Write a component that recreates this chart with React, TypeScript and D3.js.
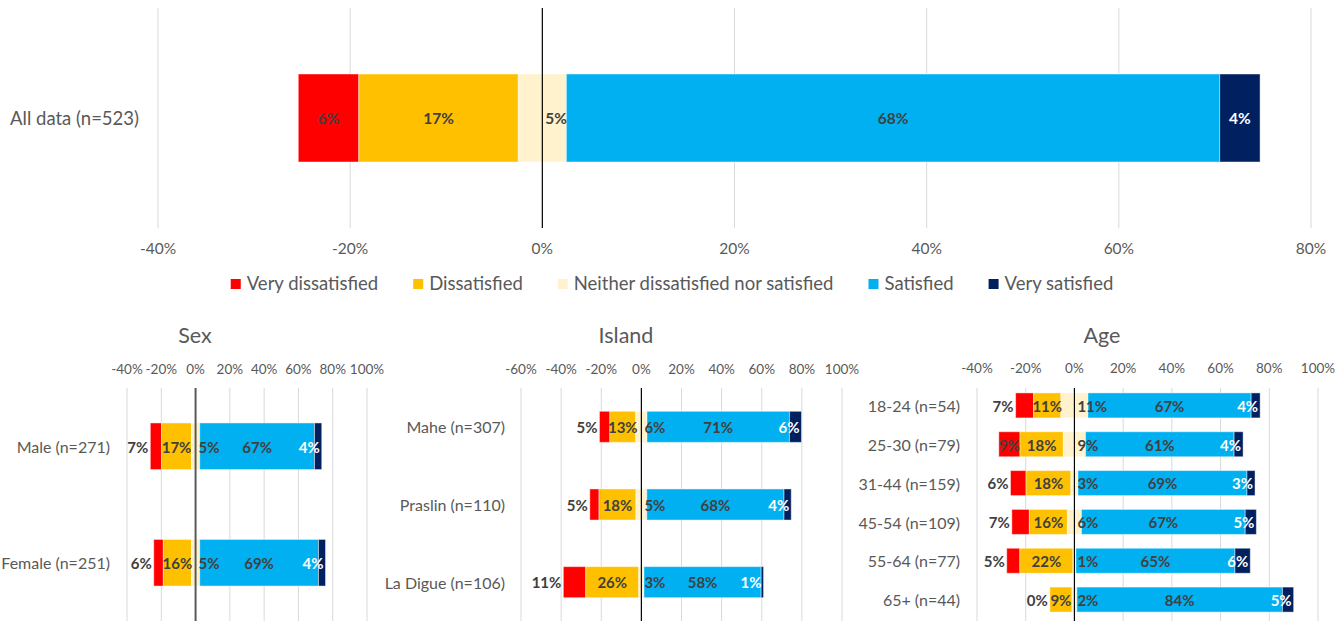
import React, { useEffect, useRef } from "react";
import * as d3 from "d3";

const seriesNames = [
  "Very dissatisfied",
  "Dissatisfied",
  "Neither dissatisfied nor satisfied",
  "Satisfied",
  "Very satisfied",
];
const seriesColors = ["#FF0000", "#FFC000", "#FFF2CC", "#00B0F0", "#002060"];

// values per category: [very dissatisfied, dissatisfied, neither, satisfied, very satisfied]
const allCategories = ["All data (n=523)"];
const allValues = [[6.3, 16.6, 5.0, 68.0, 4.2]];
const allTicks = [-40, -20, 0, 20, 40, 60, 80];

const sexCategories = ["Male (n=271)", "Female (n=251)"];
const sexValues = [
  [6.6, 17.4, 4.8, 67.0, 4.2],
  [5.6, 16.4, 4.8, 69.3, 4.1],
];
const sexTicks = [-40, -20, 0, 20, 40, 60, 80, 100];

const islandCategories = ["Mahe (n=307)", "Praslin (n=110)", "La Digue (n=106)"];
const islandValues = [
  [5.2, 12.9, 5.6, 71.0, 6.0],
  [4.6, 18.4, 5.4, 68.4, 3.6],
  [11.2, 26.4, 2.6, 58.4, 1.2],
];
const islandTicks = [-60, -40, -20, 0, 20, 40, 60, 80, 100];

const ageCategories = [
  "18-24 (n=54)",
  "25-30 (n=79)",
  "31-44 (n=159)",
  "45-54 (n=109)",
  "55-64 (n=77)",
  "65+ (n=44)",
];
const ageValues = [
  [7.4, 11.2, 11.1, 67.0, 3.7],
  [8.7, 17.8, 9.1, 61.0, 3.7],
  [6.4, 18.4, 2.9, 69.4, 3.3],
  [7.2, 15.6, 5.8, 67.2, 4.6],
  [5.4, 21.8, 1.2, 65.3, 6.3],
  [0, 9.1, 2.0, 84.4, 4.6],
];
const ageTicks = [-40, -20, 0, 20, 40, 60, 80, 100];

const FONT = "Lato, 'Open Sans', sans-serif";
const TEXT = "#595959";
const LABEL = "#404040";

type PanelOpts = {
  categories: string[];
  values: number[][];
  ticks: number[];
  range: [number, number];
  yRange: [number, number];
  lineRange: [number, number];
  padding: number;
  catRight: number;
  catSize: number;
  tickY: number;
  tickSize: number;
  labelSize: number;
  zeroColor: string;
  zeroWidth: number;
  title?: string;
  titleX?: number;
  titleY?: number;
};

export default function App() {
  const ref = useRef<SVGSVGElement>(null);

  useEffect(() => {
    const svg = d3.select(ref.current);
    svg.selectAll("*").remove();

    function panel(o: PanelOpts) {
      const x = d3
        .scaleLinear()
        .domain([o.ticks[0], o.ticks[o.ticks.length - 1]])
        .range(o.range);
      const y = d3
        .scaleBand()
        .domain(o.categories)
        .range(o.yRange)
        .paddingInner(o.padding)
        .paddingOuter(o.padding / 2);
      const g = svg.append("g");

      if (o.title) {
        g.append("text")
          .attr("x", o.titleX!)
          .attr("y", o.titleY!)
          .attr("dy", "0.35em")
          .attr("text-anchor", "middle")
          .attr("font-family", FONT)
          .attr("font-size", 21.5)
          .attr("fill", TEXT)
          .text(o.title);
      }

      g.append("g")
        .selectAll("line")
        .data(o.ticks.filter((t) => t !== 0))
        .join("line")
        .attr("x1", (d) => x(d))
        .attr("x2", (d) => x(d))
        .attr("y1", o.lineRange[0])
        .attr("y2", o.lineRange[1])
        .attr("stroke", "#d9d9d9")
        .attr("stroke-width", 1);

      g.append("g")
        .selectAll("text")
        .data(o.ticks)
        .join("text")
        .attr("x", (d) => x(d))
        .attr("y", o.tickY)
        .attr("dy", "0.35em")
        .attr("text-anchor", "middle")
        .attr("font-family", FONT)
        .attr("font-size", o.tickSize)
        .attr("fill", TEXT)
        .text((d) => d + "%");

      g.append("g")
        .selectAll("text")
        .data(o.categories)
        .join("text")
        .attr("x", o.catRight)
        .attr("y", (d) => y(d)! + y.bandwidth() / 2 + 1)
        .attr("dy", "0.35em")
        .attr("text-anchor", "end")
        .attr("font-family", FONT)
        .attr("font-size", o.catSize)
        .attr("fill", TEXT)
        .text((d) => d);

      const rows = o.values.map((row, i) => {
        let cum = -(row[0] + row[1] + row[2] / 2);
        const segs = row.map((v, k) => {
          const s = cum;
          cum += v;
          return { k, v, s, e: cum, cat: o.categories[i] };
        });
        return segs;
      });

      const barsG = g.append("g");
      rows.forEach((segs) => {
        barsG
          .selectAll(null)
          .data(segs.filter((d) => d.v > 0))
          .join("rect")
          .attr("x", (d) => x(d.s))
          .attr("width", (d) => x(d.e) - x(d.s))
          .attr("y", (d) => y(d.cat)!)
          .attr("height", y.bandwidth())
          .attr("fill", (d) => seriesColors[d.k])
          .attr("stroke", "rgba(255,255,255,0.45)")
          .attr("stroke-width", 1);
      });

      g.append("line")
        .attr("x1", x(0))
        .attr("x2", x(0))
        .attr("y1", o.lineRange[0])
        .attr("y2", o.lineRange[1])
        .attr("stroke", o.zeroColor)
        .attr("stroke-width", o.zeroWidth);

      const labG = g.append("g");
      rows.forEach((segs) => {
        segs.forEach((sg) => {
          const cy = y(sg.cat)! + y.bandwidth() / 2 + 1;
          const t = labG
            .append("text")
            .attr("font-family", FONT)
            .attr("font-weight", "bold")
            .attr("font-size", o.labelSize)
            .attr("fill", sg.k === 4 ? "#ffffff" : LABEL)
            .attr("text-anchor", "middle")
            .attr("y", cy)
            .attr("dy", "0.35em")
            .text(Math.round(sg.v) + "%");
          const w = (t.node() as SVGTextElement).getComputedTextLength();
          const x0 = x(sg.s);
          const x1 = x(sg.e);
          const mid = (x0 + x1) / 2;
          let cx = mid;
          if (sg.k === 0) cx = x1 - x0 >= w ? mid : x0 - 2 - w / 2;
          else if (sg.k === 2) cx = x(0) + 3 + w / 2;
          else if (sg.k === 4) cx = Math.min(mid, x1 - 2 - w / 2);
          t.attr("x", cx);
        });
      });
    }

    panel({
      categories: allCategories,
      values: allValues,
      ticks: allTicks,
      range: [158, 1311],
      yRange: [8, 228],
      lineRange: [8, 228],
      padding: 0.6,
      catRight: 139,
      catSize: 18.5,
      tickY: 249,
      tickSize: 15.5,
      labelSize: 15.5,
      zeroColor: "#000000",
      zeroWidth: 1.2,
    });

    panel({
      categories: sexCategories,
      values: sexValues,
      ticks: sexTicks,
      range: [127, 367],
      yRange: [388, 621],
      lineRange: [388, 621],
      padding: 0.6,
      catRight: 110,
      catSize: 16,
      tickY: 369,
      tickSize: 13.5,
      labelSize: 15,
      zeroColor: "#595959",
      zeroWidth: 2,
      title: "Sex",
      titleX: 195,
      titleY: 335,
    });

    panel({
      categories: islandCategories,
      values: islandValues,
      ticks: islandTicks,
      range: [521, 842],
      yRange: [388, 621],
      lineRange: [388, 621],
      padding: 0.6,
      catRight: 505,
      catSize: 16,
      tickY: 369,
      tickSize: 13.5,
      labelSize: 15,
      zeroColor: "#000000",
      zeroWidth: 1.2,
      title: "Island",
      titleX: 626,
      titleY: 335,
    });

    panel({
      categories: ageCategories,
      values: ageValues,
      ticks: ageTicks,
      range: [977, 1318],
      yRange: [386, 619],
      lineRange: [388, 621],
      padding: 0.356,
      catRight: 960,
      catSize: 16,
      tickY: 368,
      tickSize: 13.5,
      labelSize: 15,
      zeroColor: "#000000",
      zeroWidth: 1.2,
      title: "Age",
      titleX: 1102,
      titleY: 335,
    });

    // legend
    const lg = svg.append("g");
    const items = seriesNames.map((name, i) => {
      const it = lg.append("g");
      it.append("rect")
        .attr("width", 10)
        .attr("height", 10)
        .attr("y", 284 - 5)
        .attr("fill", seriesColors[i]);
      const t = it
        .append("text")
        .attr("x", 16)
        .attr("y", 284)
        .attr("dy", "0.35em")
        .attr("font-family", FONT)
        .attr("font-size", 18.5)
        .attr("fill", TEXT)
        .text(name);
      const w = 16 + (t.node() as SVGTextElement).getComputedTextLength();
      return { it, w };
    });
    const gap = 35;
    const total = d3.sum(items, (d) => d.w) + gap * (items.length - 1);
    let cx = 672 - total / 2;
    items.forEach((d) => {
      d.it.attr("transform", `translate(${cx},0)`);
      cx += d.w + gap;
    });
  }, []);

  return (
    <svg
      ref={ref}
      width={1343}
      height={621}
      style={{ position: "absolute", left: 0, top: 0, background: "#ffffff" }}
    />
  );
}
